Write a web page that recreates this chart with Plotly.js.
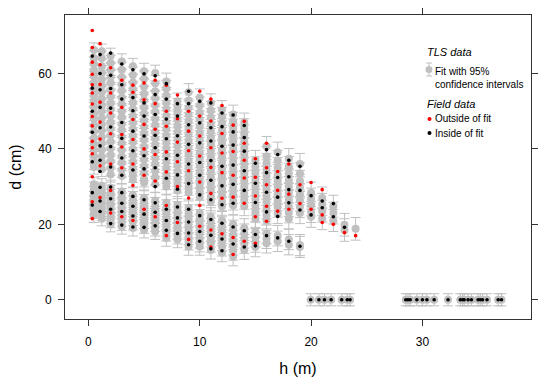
<!DOCTYPE html>
<html>
<head>
<meta charset="utf-8">
<script src="https://cdn.plot.ly/plotly-3.0.1.min.js"></script>
<style>html,body{margin:0;padding:0;background:#fff;}#chart{width:553px;height:385px;}</style>
</head>
<body>
<div id="chart"></div>
<script>
// Stem heights (m) of the TLS fit columns
const tlsH = [0.5, 1.2, 2, 3, 4, 5, 6, 7, 8, 9, 10, 11, 12, 13, 14, 15, 16, 17, 18, 19, 20, 21, 22, 23, 24];
// 95% CI half-width (cm) per column
const tlsErr = [1.9, 1.9, 2.0, 2.0, 2.1, 2.1, 2.1, 2.2, 2.2, 2.3, 2.3, 2.4, 2.4, 2.5, 2.5, 2.6, 2.6, 2.7, 2.7, 2.8, 2.8, 2.9, 2.9, 3.0, 3.0];
// TLS fitted diameters (cm) per column
const tlsD = [
  [66.2,64.1,62.5,60.8,59.3,57.6,55.9,54.2,52.8,51.1,49.4,47.9,46.3,44.6,42.8,41.2,39.7,38.1,36.4,35.2,30.6,29.3,28.1,26.9,25.8,24.6,23.5,22.4],
  [65.9,64.0,61.9,60.2,58.4,56.8,55.0,53.3,51.6,50.0,48.2,46.5,44.9,43.1,41.5,39.8,38.0,36.3,34.6,30.2,29.0,27.7,26.5,25.3,24.0,22.9,21.5],
  [64.7,62.8,60.9,59.1,57.5,55.6,53.9,52.1,50.5,48.8,47.0,45.4,43.6,41.9,40.1,38.4,36.7,35.0,33.2,29.7,28.4,27.2,26.0,24.8,23.5,22.3,21.1,20.0],
  [63.2,61.0,59.0,57.1,55.5,53.6,51.9,50.0,48.4,46.6,45.0,43.2,41.5,39.7,38.0,36.3,34.5,32.8,28.7,27.5,26.3,25.1,23.9,22.6,21.5,20.4,19.4],
  [61.9,59.6,57.6,55.8,54.0,52.3,50.5,48.7,47.0,45.2,43.5,41.8,40.0,38.3,36.6,34.9,33.2,31.8,27.8,26.6,25.4,24.2,23.0,21.8,20.6,19.0],
  [60.6,58.6,56.5,54.6,52.9,51.0,49.3,47.5,45.8,44.1,42.4,40.6,38.9,37.2,35.4,33.7,32.0,31.0,27.0,25.8,24.6,23.4,22.2,21.0,19.7,18.5],
  [60.1,57.4,55.3,53.4,51.6,49.8,48.0,46.3,44.5,42.8,41.1,39.4,37.6,35.9,34.2,32.5,30.6,26.3,25.0,23.8,22.6,21.4,20.2,19.0,18.1],
  [57.9,56.0,54.1,52.3,50.6,48.8,47.0,45.3,43.5,41.8,40.1,38.3,36.6,34.9,33.1,31.4,30.0,25.8,24.3,23.0,21.7,20.4,19.1,17.8,16.4],
  [52.6,51.2,49.5,47.8,46.1,44.4,42.6,40.9,39.2,37.4,35.7,34.0,32.2,30.5,29.0,25.2,23.8,22.4,21.0,19.6,18.3,17.0,16.0],
  [55.0,52.8,50.9,49.1,47.3,45.6,43.8,42.1,40.3,38.6,36.9,35.1,33.4,31.7,30.0,28.5,24.4,22.9,21.4,19.9,18.4,17.0,15.5,14.1],
  [53.6,51.5,49.6,47.8,46.0,44.3,42.5,40.8,39.0,37.3,35.6,33.8,32.1,30.4,28.7,27.2,23.0,21.6,20.2,18.8,17.4,16.0,15.0,14.1],
  [52.2,50.2,48.3,46.5,44.7,43.0,41.2,39.5,37.7,36.0,34.3,32.5,30.8,29.1,27.4,26.0,22.0,20.6,19.2,17.8,16.4,15.0,13.2],
  [50.4,48.6,46.8,45.0,43.3,41.5,39.8,38.0,36.3,34.6,32.8,31.1,29.4,27.7,26.0,24.8,21.0,19.6,18.2,16.8,15.4,14.0,12.5],
  [49.1,47.2,45.4,43.6,41.9,40.1,38.4,36.6,34.9,33.2,31.4,29.7,28.0,26.3,25.0,20.0,18.6,17.2,15.8,14.4,13.0,11.5],
  [47.0,45.5,43.8,42.0,40.3,38.6,36.8,35.1,33.4,31.6,29.9,28.2,26.5,24.8,19.0,17.6,16.2,14.8,13.2],
  [37.0,35.3,33.6,31.8,30.1,28.4,26.7,25.0,23.2,21.5,18.0,16.6,15.2,14.0],
  [40.7,38.0,36.2,34.5,32.8,31.0,29.3,27.6,25.9,24.1,22.4,21.0,17.5,16.2,15.0],
  [39.1,36.9,35.0,33.2,31.5,29.8,28.0,26.3,24.6,22.9,17.0,15.5],
  [37.4,35.3,33.5,31.7,30.0,28.3,26.5,24.8,23.1,21.5,16.0,14.6],
  [36.0,33.5,31.5,29.8,28.0,26.3,24.6,23.0,14.5,14.0],
  [28.4,26.8,25.0,23.3,22.0],
  [27.0,25.3,23.5,21.5],
  [24.8,23.0,21.0],
  [19.9,18.5],
  [18.8]
];
// Field measurement heights (m) per column
const fieldH = [0.35, 1.05, 2, 3, 4, 5, 6, 7, 8, 9, 10, 11, 12, 13, 14, 15, 16, 17, 18, 19, 20, 21, 22, 23, 24];
// Field diameters outside the fit CI (red)
const fieldOutD = [
  [71.4,66.9,63.0,59.8,57.0,54.8,51.9,48.6,46.1,42.0,40.3,38.7,32.6,26.0,21.5],
  [67.9,62.3,57.1,52.4,47.1,42.6,35.5,27.1],
  [61.5,54.8,49.5,44.0,36.0,29.0,23.0],
  [58.2,51.0,43.8,40.5,35.0,22.0],
  [56.9,55.0,47.8,42.5,36.0,30.3,21.0],
  [57.5,53.0,46.5,40.0,33.0,24.0],
  [58.2,52.0,45.2,38.5,31.5,22.0],
  [56.9,50.0,46.0,39.2,33.9,25.0,17.0],
  [54.3,48.0,41.8,36.6,30.0,20.5],
  [50.0,44.7,39.5,34.2,27.0,16.0],
  [55.3,48.7,43.4,38.1,31.2,25.0,19.5],
  [53.2,47.4,40.3,35.1,28.2,18.5,14.0],
  [51.5,44.1,38.9,33.7,26.9,17.5],
  [46.3,39.3,33.0,27.2,16.5,12.0],
  [47.3,41.5,37.0,32.3,25.6,15.5],
  [37.4,32.5,27.5,22.0,15.0],
  [41.5,35.0,30.5,24.8,20.8],
  [34.0,29.0,23.5],
  [36.0,28.0,24.0],
  [30.5,25.5],
  [31.1,24.0],
  [29.2,22.5,20.5],
  [20.0],
  [17.8],
  [17.0]
];
// Field diameters inside the fit CI (black)
const fieldInD = [
  [64.6,56.1,50.0,44.4,36.6,28.4,25.1],
  [65.0,60.0,55.7,51.0,45.6,40.8,37.0,34.0,29.8,26.2,23.4],
  [65.4,59.5,56.0,50.8,45.8,40.6,35.2,29.9,26.8,24.0,20.2],
  [62.5,57.0,53.2,47.0,42.8,37.6,33.0,28.4,25.6,23.4,19.8],
  [61.0,53.6,50.1,44.7,39.5,34.4,27.4,24.8,22.2,19.3],
  [59.9,52.2,48.7,43.4,38.2,34.7,26.5,22.7,19.2],
  [59.4,54.4,49.1,43.6,40.3,35.0,30.0,25.7,23.2,19.6],
  [57.3,53.2,47.9,42.7,37.4,32.2,24.0,21.0,18.4],
  [52.0,48.7,43.5,38.3,33.1,29.3,24.6,21.7,17.6],
  [55.3,52.0,46.4,41.2,36.0,30.8,24.0,20.6,17.7,14.6],
  [52.6,46.9,41.6,36.4,33.0,27.8,22.3,18.1,15.5],
  [52.2,45.6,42.1,36.9,31.7,26.5,21.3,17.1,13.5],
  [49.5,45.9,40.7,35.4,30.2,25.2,20.3,16.1,13.0],
  [49.0,44.5,41.0,35.7,30.6,25.6,19.3,14.8],
  [46.2,43.0,39.4,34.2,29.0,18.3,14.0],
  [36.2,30.9,25.8,17.3,14.3],
  [39.8,33.7,28.5,23.3,17.0],
  [38.5,32.4,27.2,22.1,16.4],
  [37.0,32.6,29.2,25.7,15.5],
  [35.4,29.0,23.8,14.2],
  [27.6,22.5],
  [26.2,24.4],
  [25.5,22.0],
  [19.2],
  []
];
// Tree tops: heights (m) where diameter is 0
const zeroH = [19.96,20.7,21.2,21.8,22.75,23.25,23.5,28.5,28.7,28.9,29.5,30.0,30.4,31.05,32.3,33.4,33.6,33.75,34.1,34.4,35.0,35.2,35.4,35.8,36.8,37.1];
const zeroErr = 1.6;
const xTicks = [0, 10, 20, 30];
const yTicks = [0, 20, 40, 60];

const gx = [], gy = [], ge = [];
tlsD.forEach((col, i) => col.forEach(d => { gx.push(tlsH[i]); gy.push(d); ge.push(tlsErr[i]); }));
zeroH.forEach(h => { gx.push(h); gy.push(0); ge.push(zeroErr); });
const rx = [], ry = [];
fieldOutD.forEach((col, i) => col.forEach(d => { rx.push(fieldH[i]); ry.push(d); }));
const bx = [], by = [];
fieldInD.forEach((col, i) => col.forEach(d => { bx.push(fieldH[i]); by.push(d); }));
zeroH.forEach(h => { bx.push(h); by.push(0); });

const GREY = '#c0c0c0';
const FONT = 'Liberation Sans, Arial, Helvetica, sans-serif';
const traces = [
  { x: gx, y: gy, type: 'scatter', mode: 'markers', showlegend: false,
    marker: { color: GREY, size: 8 },
    error_y: { type: 'data', array: ge, visible: true, color: GREY, thickness: 1, width: 5 } },
  { x: rx, y: ry, type: 'scatter', mode: 'markers', showlegend: false,
    marker: { color: '#ff0000', size: 3.6 } },
  { x: bx, y: by, type: 'scatter', mode: 'markers', showlegend: false,
    marker: { color: '#000000', size: 3.6 } }
];

// pixel -> paper helpers for the in-plot key
const L = 65, R = 22, T = 15, B = 66, W = 553, H = 385;
const pw = W - L - R, ph = H - T - B;
const px = v => (v - L) / pw, py = v => (H - B - v) / ph;

const ann = (text, x, y, size) => ({ text, x: px(x), y: py(y), xref: 'paper', yref: 'paper',
  xanchor: 'left', yanchor: 'middle', showarrow: false, font: { family: FONT, size, color: '#000' } });

const layout = {
  width: W, height: H,
  margin: { l: L, r: R, t: T, b: B },
  paper_bgcolor: '#fff', plot_bgcolor: '#fff',
  font: { family: FONT, color: '#000' },
  showlegend: false,
  xaxis: {
    range: [-2.1, 39.75], tickvals: xTicks, ticktext: xTicks.map(String),
    ticks: 'outside', ticklen: 6, tickwidth: 1, tickcolor: '#333',
    showline: true, linecolor: '#333', linewidth: 1, mirror: 'ticks',
    showgrid: false, zeroline: false, tickfont: { size: 12, family: FONT, color: '#000' },
    ticklabelstandoff: 6,
    title: { text: 'h (m)', font: { size: 16, family: FONT, color: '#000' }, standoff: 14 }
  },
  yaxis: {
    range: [-5.1, 75.5], tickvals: yTicks, ticktext: yTicks.map(String),
    ticks: 'outside', ticklen: 6, tickwidth: 1, tickcolor: '#333',
    showline: true, linecolor: '#333', linewidth: 1, mirror: 'ticks',
    showgrid: false, zeroline: false, tickfont: { size: 12, family: FONT, color: '#000' },
    ticklabelstandoff: 4,
    title: { text: 'd (cm)', font: { size: 16, family: FONT, color: '#000' }, standoff: 12 }
  },
  annotations: [
    ann('<i>TLS data</i>', 425, 52, 11),
    ann('Fit with 95%', 433, 71, 10),
    ann('confidence intervals', 433, 84, 10),
    ann('<i>Field data</i>', 425, 104, 11),
    ann('Outside of fit', 433, 119, 10),
    ann('Inside of fit', 433, 133, 10)
  ],
  shapes: [
    { type: 'line', xref: 'paper', yref: 'paper', x0: px(429), x1: px(429), y0: py(63), y1: py(76), line: { color: GREY, width: 1 } },
    { type: 'line', xref: 'paper', yref: 'paper', x0: px(426), x1: px(432), y0: py(63), y1: py(63), line: { color: GREY, width: 1 } },
    { type: 'line', xref: 'paper', yref: 'paper', x0: px(426), x1: px(432), y0: py(76), y1: py(76), line: { color: GREY, width: 1 } },
    { type: 'circle', xref: 'paper', yref: 'paper', x0: px(425.5), x1: px(432.5), y0: py(66), y1: py(73), fillcolor: GREY, line: { width: 0 } },
    { type: 'circle', xref: 'paper', yref: 'paper', x0: px(427.5), x1: px(431.5), y0: py(117), y1: py(121), fillcolor: '#ff0000', line: { width: 0 } },
    { type: 'circle', xref: 'paper', yref: 'paper', x0: px(427.5), x1: px(431.5), y0: py(131), y1: py(135), fillcolor: '#000000', line: { width: 0 } }
  ]
};

Plotly.newPlot('chart', traces, layout, { displayModeBar: false, staticPlot: true });
</script>
</body>
</html>
